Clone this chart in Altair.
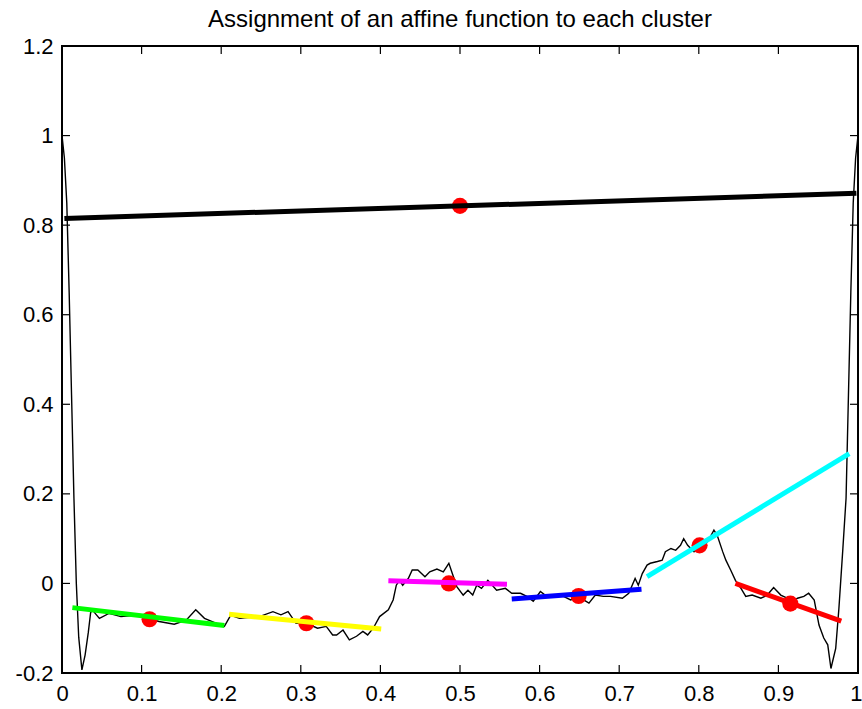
import altair as alt
import pandas as pd

# ---- data ----
curve_x = [0.0, 0.003, 0.006, 0.009, 0.012, 0.015, 0.018, 0.021, 0.025, 0.029, 0.033, 0.036,
           0.038, 0.047, 0.059, 0.074, 0.093, 0.107, 0.122, 0.141, 0.156, 0.168, 0.179, 0.194,
           0.204, 0.212, 0.223, 0.248, 0.265, 0.275, 0.284, 0.294, 0.307, 0.321, 0.332, 0.340,
           0.345, 0.353, 0.361, 0.370, 0.378, 0.384, 0.391, 0.399, 0.410, 0.416, 0.420, 0.424,
           0.428, 0.435, 0.440, 0.447, 0.456, 0.462, 0.471, 0.479, 0.486, 0.491, 0.496, 0.504,
           0.510, 0.516, 0.521, 0.527, 0.535, 0.546, 0.557, 0.565, 0.576, 0.584, 0.592, 0.601,
           0.609, 0.622, 0.630, 0.639, 0.649, 0.662, 0.670, 0.680, 0.689, 0.704, 0.712, 0.720,
           0.724, 0.729, 0.735, 0.739, 0.748, 0.754, 0.758, 0.765, 0.771, 0.777, 0.781, 0.786,
           0.794, 0.801, 0.811, 0.819, 0.823, 0.830, 0.834, 0.840, 0.846, 0.853, 0.859, 0.867,
           0.878, 0.886, 0.894, 0.903, 0.911, 0.918, 0.924, 0.932, 0.938, 0.945, 0.951, 0.957,
           0.962, 0.966, 0.972, 0.976, 0.981, 0.985, 0.988, 0.991, 0.994, 0.997, 1.0]
curve_y = [1.0, 0.95, 0.85, 0.65, 0.42, 0.19, 0.0, -0.12, -0.193, -0.16, -0.11, -0.065,
           -0.059, -0.078, -0.067, -0.074, -0.071, -0.078, -0.085, -0.091, -0.082, -0.059, -0.078, -0.089,
           -0.096, -0.071, -0.078, -0.074, -0.063, -0.07, -0.063, -0.089, -0.089, -0.1, -0.096, -0.115,
           -0.115, -0.104, -0.126, -0.118, -0.107, -0.115, -0.1, -0.074, -0.059, -0.037, -0.004, 0.007,
           -0.004, 0.011, 0.03, 0.03, 0.015, 0.026, 0.032, 0.026, 0.045, 0.019, -0.007, -0.026,
           -0.015, -0.026, -0.004, -0.011, 0.007, -0.015, -0.011, -0.022, -0.022, -0.029, -0.04, -0.018,
           -0.029, -0.026, -0.029, -0.037, -0.03, -0.044, -0.026, -0.029, -0.029, -0.033, -0.022, 0.011,
           -0.004, 0.022, 0.041, 0.045, 0.049, 0.052, 0.071, 0.078, 0.074, 0.085, 0.1, 0.085,
           0.071, 0.085, 0.093, 0.119, 0.108, 0.071, 0.052, 0.03, 0.007, -0.011, -0.029, -0.026,
           -0.033, -0.026, -0.009, -0.026, -0.033, -0.04, -0.033, -0.029, -0.022, -0.037, -0.093, -0.122,
           -0.137, -0.19, -0.145, -0.056, 0.078, 0.19, 0.42, 0.65, 0.85, 0.95, 1.0]

seg_x1 = [0.003, 0.013, 0.210, 0.410, 0.565, 0.735, 0.846]
seg_x2 = [0.998, 0.204, 0.401, 0.559, 0.728, 0.989, 0.979]
seg_y1 = [0.815, -0.054, -0.069, 0.006, -0.035, 0.015, 0.000]
seg_y2 = [0.871, -0.094, -0.102, -0.002, -0.013, 0.290, -0.084]
seg_colors = ["#000000", "#00ff00", "#ffff00", "#ff00ff", "#0000ff", "#00ffff", "#ff0000"]

center_x = [0.500, 0.110, 0.307, 0.486, 0.649, 0.801, 0.915]
center_y = [0.843, -0.080, -0.089, 0.000, -0.028, 0.085, -0.045]

x_ticks = [0, 0.1, 0.2, 0.3, 0.4, 0.5, 0.6, 0.7, 0.8, 0.9, 1]
y_ticks = [-0.2, 0, 0.2, 0.4, 0.6, 0.8, 1, 1.2]

title_text = "Assignment of an affine function to each cluster"

# ---- build ----
W, H = 796, 627
TL = 8
FONT = "Liberation Sans"

xs = alt.Scale(domain=[0, 1], nice=False, zero=False)
ys = alt.Scale(domain=[-0.2, 1.2], nice=False, zero=False)
xa = alt.Axis(
    values=x_ticks, labelExpr="'' + datum.value",
    labelAlign={"condition": {"test": "datum.value == 1", "value": "right"}, "value": "center"},
    labelOffset={"condition": {"test": "datum.value == 1", "value": 4}, "value": 0},
)
ya = alt.Axis(values=y_ticks, labelExpr="'' + datum.value")

def X(f="x"):
    return alt.X(f"{f}:Q", scale=xs, axis=xa, title=None)

def Y(f="y"):
    return alt.Y(f"{f}:Q", scale=ys, axis=ya, title=None)

curve_df = pd.DataFrame({"x": curve_x, "y": curve_y})
seg_df = pd.DataFrame({"x": seg_x1, "y": seg_y1, "x2": seg_x2, "y2": seg_y2, "c": seg_colors})
ctr_df = pd.DataFrame({"x": center_x, "y": center_y})
xt_df = pd.DataFrame({"x": x_ticks})
yt_df = pd.DataFrame({"y": y_ticks})

curve = alt.Chart(curve_df).mark_line(color="black", strokeWidth=1.4).encode(x=X(), y=Y())
dots = alt.Chart(ctr_df).mark_circle(color="#ff0000", size=260, opacity=1).encode(x=X(), y=Y())
segs = alt.Chart(seg_df).mark_rule(strokeWidth=5).encode(
    x=X(), y=Y(), x2="x2:Q", y2="y2:Q", color=alt.Color("c:N", scale=None)
)

tick_bottom = alt.Chart(xt_df).mark_rule(color="black", strokeWidth=1.2).encode(
    x=X(), y=alt.value(H), y2=alt.value(H - TL))
tick_top = alt.Chart(xt_df).mark_rule(color="black", strokeWidth=1.2).encode(
    x=X(), y=alt.value(0), y2=alt.value(TL))
tick_left = alt.Chart(yt_df).mark_rule(color="black", strokeWidth=1.2).encode(
    y=Y(), x=alt.value(0), x2=alt.value(TL))
tick_right = alt.Chart(yt_df).mark_rule(color="black", strokeWidth=1.2).encode(
    y=Y(), x=alt.value(W), x2=alt.value(W - TL))

chart = alt.layer(curve, dots, segs, tick_bottom, tick_top, tick_left, tick_right).properties(
    width=W, height=H,
    title=alt.TitleParams(title_text, font=FONT, fontSize=24, fontWeight="normal",
                          color="black", anchor="middle", offset=3),
    autosize=alt.AutoSizeParams(type="none"),
    padding={"left": 62, "top": 46, "right": 4, "bottom": 36},
    background="white",
).configure_view(
    stroke="black", strokeWidth=2
).configure_axis(
    domain=False, ticks=False, grid=False, labelFont=FONT, labelFontSize=22,
    labelColor="black", labelFlush=False, labelOverlap=False, labelBound=False
).configure_axisX(
    labelPadding=10
).configure_axisY(
    labelPadding=9
)

chart.save("out.html", embed_options={"renderer": "svg", "actions": False})
